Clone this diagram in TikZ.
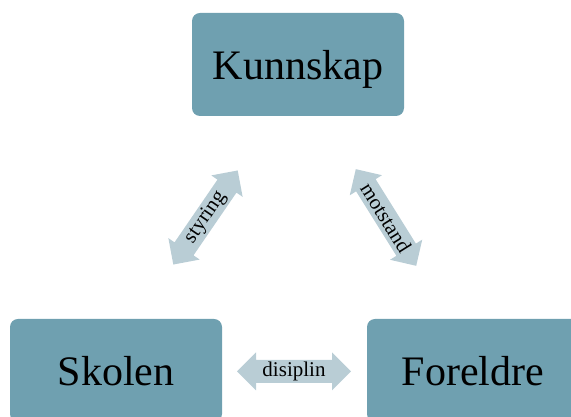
\documentclass[tikz,border=0pt]{standalone}
\usepackage{fontspec}
\setmainfont{Liberation Serif}
\definecolor{boxfill}{RGB}{111,160,176}
\definecolor{arrowfill}{RGB}{185,205,213}
\tikzset{
  box/.style={fill=boxfill, rounded corners=8pt, minimum width=212pt, minimum height=103pt,
    font=\fontsize{42}{50}\selectfont, text depth=0pt, inner sep=0pt},
  lbl/.style={font=\fontsize{21}{25}\selectfont, inner sep=0pt},
  dblarrow/.pic={
    \fill[arrowfill] (-57,0) -- (-38,19) -- (-38,11.5) -- (38,11.5) -- (38,19) -- (57,0)
      -- (38,-19) -- (38,-11.5) -- (-38,-11.5) -- (-38,-19) -- cycle;
  }
}
\begin{document}
\begin{tikzpicture}[x=1pt,y=1pt]
\useasboundingbox (0,0) rectangle (571,417);
\clip (0,0) rectangle (571,417);
\node[box] (kunn) at (298,352.5) {Kunnskap};
\node[box] (skolen) at (116,46.5) {Skolen};
\node[box] (foreldre) at (473,46.5) {Foreldre};
\pic[rotate=55.6] at (205.5,199.5) {dblarrow};
\node[lbl, rotate=55.6] (styring) at (205.5,199.5) {styring};
\pic[rotate=-58] at (386,199.5) {dblarrow};
\node[lbl, rotate=-58] (motstand) at (386,199.5) {motstand};
\pic at (294,45.5) {dblarrow};
\node[lbl] (disiplin) at (294,45.5) {disiplin};
\end{tikzpicture}
\end{document}
